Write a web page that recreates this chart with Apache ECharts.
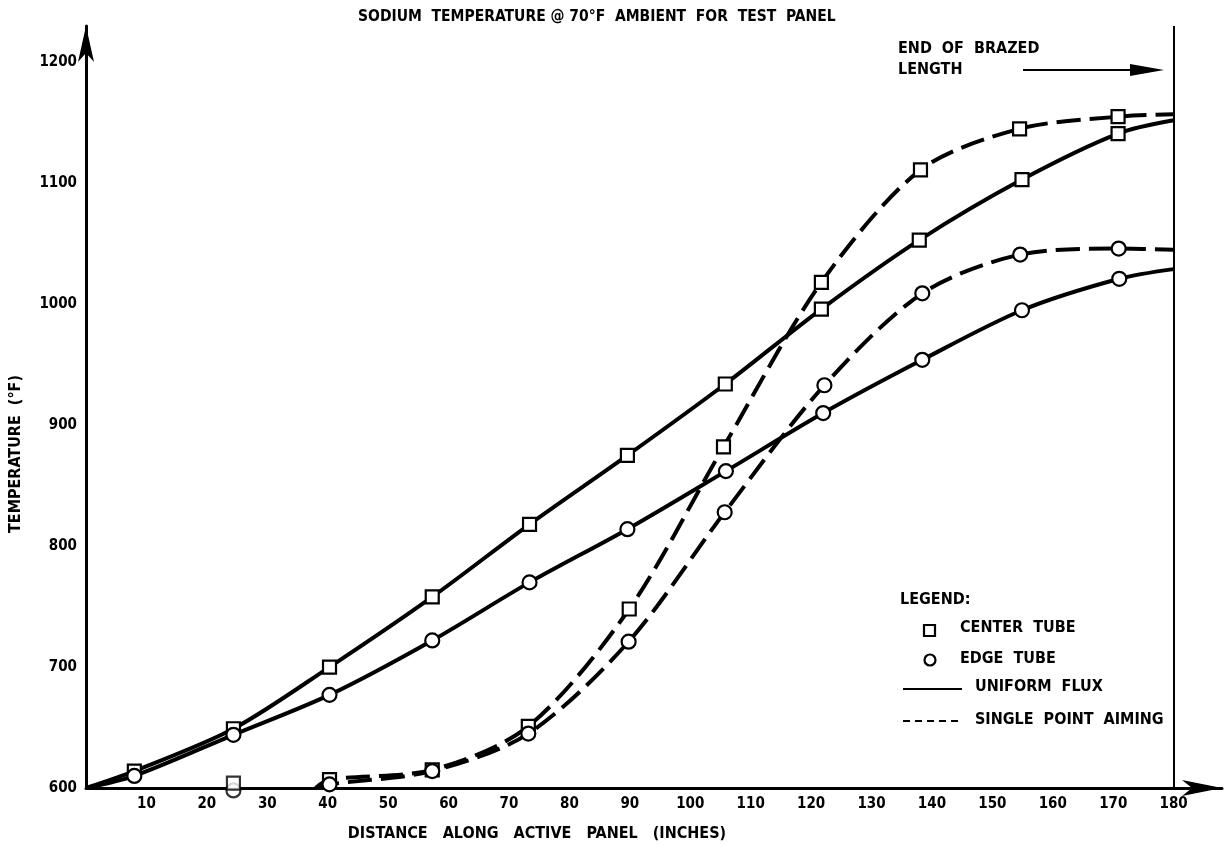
<!DOCTYPE html>
<html>
<head>
<meta charset="utf-8">
<script src="https://cdn.jsdelivr.net/npm/echarts@6/dist/echarts.min.js"></script>
<style>
html,body{margin:0;padding:0;background:#fff;}
#chart{width:1228px;height:847px;}
</style>
</head>
<body>
<div id="chart"></div>
<script>
// ---- data (distance in inches, temperature in °F) ----
const centerUniform = [[0,600],[8,614],[24.4,649],[40.3,700],[57.3,758],[73.4,818],[89.6,875],[105.8,934],[121.7,996],[137.9,1053],[154.9,1103],[170.8,1141],[180,1152]];
const edgeUniform   = [[0,600],[8,610],[24.4,644],[40.3,677],[57.3,722],[73.4,770],[89.6,814],[105.9,862],[122,910],[138.4,954],[154.9,995],[171,1021],[180,1029]];
const centerAiming  = [[38,600],[40.3,607],[57.3,615],[73.2,651],[89.9,748],[105.5,882],[121.7,1018],[138.1,1111],[154.5,1145],[170.8,1155],[180,1157]];
const edgeAiming    = [[38,600],[40.3,603],[57.3,614],[73.2,645],[89.8,721],[105.7,828],[122.2,933],[138.4,1009],[154.6,1041],[170.9,1046],[180,1045]];
const centerAimingLoose = [[24.4,604]];
const edgeAimingLoose   = [[24.4,598]];
const brazedEnd = 180;

const titleText = 'SODIUM  TEMPERATURE @ 70°F  AMBIENT  FOR  TEST  PANEL';
const xName = 'DISTANCE   ALONG   ACTIVE   PANEL   (INCHES)';
const yName = 'TEMPERATURE  (°F)';
const legendTitle = 'LEGEND:';
const legendLabels = ['CENTER  TUBE', 'EDGE  TUBE', 'UNIFORM  FLUX', 'SINGLE  POINT  AIMING'];
const brazedLabel = ['END  OF  BRAZED', 'LENGTH'];

const FONT = '"DejaVu Sans Condensed", "DejaVu Sans", sans-serif';
const INK = '#000';
const gfont = 'bold 16px "DejaVu Sans Condensed", "DejaVu Sans", sans-serif';

// hide symbols on curve end points (no measured marker there)
function withEnds(arr, hideFirst) {
  return arr.map((p, i) => {
    const hide = (i === arr.length - 1) || (hideFirst && i === 0);
    return hide ? { value: p, symbol: 'none' } : { value: p };
  });
}

const markerStyle = { color: '#fff', borderColor: INK, borderWidth: 2.2 };

function lineSeries(name, data, symbol, dashed, extra) {
  return Object.assign({
    name: name,
    type: 'line',
    data: withEnds(data, true),
    smooth: 0.3,
    symbol: symbol,
    symbolSize: symbol === 'rect' ? 13 : 14,
    showAllSymbol: true,
    lineStyle: { color: INK, width: 4, type: dashed ? [24, 9] : 'solid', cap: 'butt' },
    itemStyle: markerStyle,
    emphasis: { disabled: true },
    clip: false,
    z: dashed ? 3 : 4
  }, extra || {});
}

const chart = echarts.init(document.getElementById('chart'), null, { renderer: 'canvas' });

const option = {
  backgroundColor: '#fff',
  animation: false,
  title: {
    text: titleText,
    left: 353, top: 4,
    textStyle: { fontFamily: FONT, fontWeight: 'bold', fontSize: 15.5, color: INK }
  },
  grid: { left: 82, right: 6, top: 26, bottom: 57, containLabel: false },
  xAxis: {
    type: 'value',
    min: 0, max: 188, interval: 10,
    name: xName,
    nameLocation: 'middle',
    nameGap: 38,
    nameTextStyle: { fontFamily: FONT, fontWeight: 'bold', fontSize: 16, color: INK, padding: [0, 234, 0, 0] },
    axisLine: { lineStyle: { color: INK, width: 3 }, symbol: ['none', 'arrow'], symbolSize: [12, 40] },
    axisTick: { show: false },
    splitLine: { show: false },
    axisLabel: {
      fontFamily: FONT, fontWeight: 'bold', fontSize: 15, color: INK, margin: 9,
      formatter: v => (v === 0 || v > 180) ? '' : String(v)
    }
  },
  yAxis: {
    type: 'value',
    min: 600, max: 1230, interval: 100,
    name: yName,
    nameLocation: 'middle',
    nameGap: 62,
    nameRotate: 90,
    nameTextStyle: { fontFamily: FONT, fontWeight: 'bold', fontSize: 16, color: INK, padding: [0, 94, 0, 0] },
    axisLine: { lineStyle: { color: INK, width: 3 }, symbol: ['none', 'arrow'], symbolSize: [12, 36] },
    axisTick: { show: false },
    splitLine: { show: false },
    axisLabel: {
      fontFamily: FONT, fontWeight: 'bold', fontSize: 15, color: INK, margin: 9,
      formatter: v => v > 1200 ? '' : String(v)
    }
  },
  series: [
    lineSeries('Center tube – uniform flux', centerUniform, 'rect', false, {
      markLine: {
        silent: true, symbol: 'none', label: { show: false },
        lineStyle: { color: INK, width: 2, type: 'solid' },
        data: [{ xAxis: brazedEnd }]
      }
    }),
    lineSeries('Edge tube – uniform flux', edgeUniform, 'circle', false),
    lineSeries('Center tube – single point aiming', centerAiming, 'rect', true),
    lineSeries('Edge tube – single point aiming', edgeAiming, 'circle', true),
    { name: 'Center tube – single point aiming (pt)', type: 'scatter', data: centerAimingLoose, symbol: 'rect', symbolSize: 13, itemStyle: markerStyle, clip: false, z: 6 },
    { name: 'Edge tube – single point aiming (pt)', type: 'scatter', data: edgeAimingLoose, symbol: 'circle', symbolSize: 14, itemStyle: markerStyle, clip: false, z: 5 }
  ],
  graphic: [
    // End of brazed length note
    { type: 'text', left: 898, top: 41, style: { text: brazedLabel[0], font: gfont, fill: INK } },
    { type: 'text', left: 898, top: 62, style: { text: brazedLabel[1], font: gfont, fill: INK } },
    { type: 'line', shape: { x1: 1023, y1: 70, x2: 1135, y2: 70 }, style: { stroke: INK, lineWidth: 2 } },
    { type: 'polygon', shape: { points: [[1130, 64], [1164, 70], [1130, 76]] }, style: { fill: INK } },
    // Legend
    { type: 'text', left: 900, top: 592, style: { text: legendTitle, font: gfont, fill: INK } },
    { type: 'rect', shape: { x: 924, y: 625, width: 11, height: 11 }, style: { fill: '#fff', stroke: INK, lineWidth: 2.2 } },
    { type: 'text', left: 960, top: 620, style: { text: legendLabels[0], font: gfont, fill: INK } },
    { type: 'circle', shape: { cx: 930, cy: 660, r: 5.5 }, style: { fill: '#fff', stroke: INK, lineWidth: 2.2 } },
    { type: 'text', left: 960, top: 651, style: { text: legendLabels[1], font: gfont, fill: INK } },
    { type: 'line', shape: { x1: 903, y1: 689, x2: 962, y2: 689 }, style: { stroke: INK, lineWidth: 2 } },
    { type: 'text', left: 975, top: 679, style: { text: legendLabels[2], font: gfont, fill: INK } },
    { type: 'line', shape: { x1: 903, y1: 721, x2: 962, y2: 721 }, style: { stroke: INK, lineWidth: 2, lineDash: [7, 5] } },
    { type: 'text', left: 975, top: 712, style: { text: legendLabels[3], font: gfont, fill: INK } }
  ]
};

chart.setOption(option);
</script>
</body>
</html>
